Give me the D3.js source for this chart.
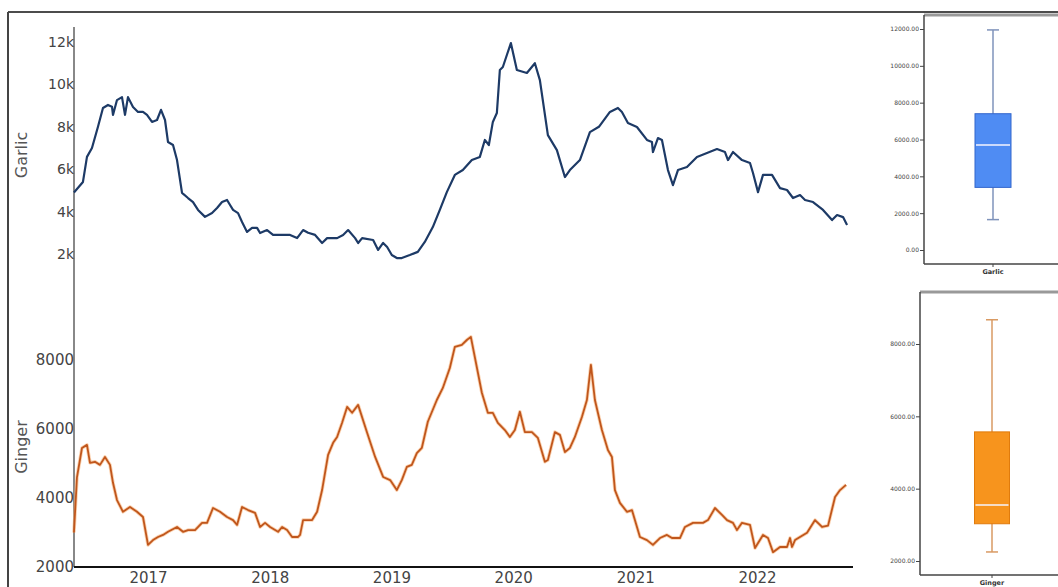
<!DOCTYPE html>
<html><head><meta charset="utf-8">
<script src="https://cdn.jsdelivr.net/npm/d3@7"></script>
<style>html,body{margin:0;padding:0;background:#fff;}svg{display:block;}</style>
</head><body><svg id="c" width="1058" height="587"></svg>
<script>
const garlicDates = ["2016-05-24","2016-06-20","2016-07-02","2016-07-17","2016-08-04","2016-08-19","2016-09-03","2016-09-15","2016-09-18","2016-09-30","2016-10-15","2016-10-24","2016-11-02","2016-11-17","2016-12-02","2016-12-17","2016-12-29","2017-01-13","2017-01-28","2017-02-09","2017-02-21","2017-03-02","2017-03-17","2017-03-29","2017-04-13","2017-05-01","2017-05-16","2017-05-31","2017-06-21","2017-07-12","2017-07-27","2017-08-11","2017-08-26","2017-09-04","2017-09-13","2017-09-28","2017-10-10","2017-10-25","2017-11-09","2017-11-24","2017-12-03","2017-12-24","2018-01-11","2018-02-07","2018-03-03","2018-03-24","2018-04-11","2018-04-26","2018-05-17","2018-06-07","2018-06-22","2018-07-22","2018-08-09","2018-08-24","2018-09-14","2018-09-23","2018-10-05","2018-11-07","2018-11-22","2018-12-07","2018-12-19","2019-01-02","2019-01-17","2019-02-01","2019-02-25","2019-03-21","2019-04-11","2019-05-05","2019-05-26","2019-06-16","2019-07-10","2019-08-03","2019-08-30","2019-09-23","2019-10-08","2019-10-20","2019-11-01","2019-11-13","2019-11-22","2019-12-01","2019-12-25","2020-01-12","2020-02-11","2020-03-06","2020-03-21","2020-04-14","2020-05-11","2020-06-04","2020-06-19","2020-07-19","2020-08-18","2020-09-14","2020-10-17","2020-11-10","2020-11-22","2020-12-10","2021-01-06","2021-02-05","2021-02-20","2021-02-23","2021-03-10","2021-03-22","2021-04-09","2021-04-24","2021-05-09","2021-06-05","2021-07-05","2021-08-04","2021-09-03","2021-09-27","2021-10-06","2021-10-21","2021-11-17","2021-12-11","2021-12-20","2022-01-04","2022-01-19","2022-02-15","2022-03-11","2022-04-01","2022-04-19","2022-05-10","2022-05-25","2022-06-18","2022-07-18","2022-08-14","2022-08-29","2022-09-16","2022-09-28"];
const garlicValues = [4900,5400,6580,7000,8000,8890,9030,8950,8560,9260,9400,8560,9400,8930,8700,8700,8560,8230,8320,8800,8320,7280,7140,6430,4880,4640,4450,4080,3750,3930,4170,4450,4550,4310,4080,3930,3510,3040,3230,3230,2990,3130,2900,2900,2900,2750,3130,3000,2900,2520,2750,2750,2900,3130,2750,2520,2750,2660,2190,2520,2330,1950,1810,1810,1950,2100,2570,3270,4080,4920,5730,5960,6430,6580,7380,7140,8230,8650,10680,10820,11950,10680,10540,11000,10200,7610,6900,5630,5960,6430,7750,8000,8700,8890,8700,8180,7990,7380,7280,6810,7470,7380,5960,5250,5960,6100,6580,6760,6950,6810,6430,6810,6430,6290,5820,4920,5730,5730,5110,5020,4640,4780,4550,4450,4080,3600,3840,3740,3370];

const gingerDates = ["2016-05-24","2016-06-02","2016-06-17","2016-07-02","2016-07-11","2016-07-26","2016-08-10","2016-08-25","2016-09-09","2016-09-18","2016-09-30","2016-10-18","2016-11-08","2016-11-29","2016-12-17","2017-01-01","2017-01-16","2017-01-31","2017-02-15","2017-03-02","2017-03-29","2017-04-16","2017-05-01","2017-05-22","2017-06-12","2017-06-27","2017-07-15","2017-08-05","2017-08-26","2017-09-13","2017-09-25","2017-10-10","2017-10-28","2017-11-18","2017-12-03","2017-12-18","2018-01-02","2018-01-26","2018-02-07","2018-02-22","2018-03-09","2018-03-27","2018-04-02","2018-04-11","2018-05-08","2018-05-23","2018-06-07","2018-06-25","2018-07-10","2018-07-22","2018-08-06","2018-08-21","2018-09-05","2018-09-23","2018-10-20","2018-11-13","2018-12-07","2018-12-28","2019-01-17","2019-02-01","2019-02-16","2019-03-03","2019-03-18","2019-04-02","2019-04-20","2019-05-17","2019-06-04","2019-06-25","2019-07-10","2019-07-31","2019-08-15","2019-08-27","2019-09-29","2019-10-17","2019-11-01","2019-11-16","2019-12-07","2019-12-22","2020-01-06","2020-01-21","2020-02-05","2020-02-26","2020-03-15","2020-04-05","2020-04-14","2020-05-05","2020-05-20","2020-06-04","2020-06-19","2020-07-04","2020-07-25","2020-08-09","2020-08-21","2020-09-02","2020-09-23","2020-10-11","2020-10-23","2020-11-01","2020-11-16","2020-12-07","2020-12-22","2021-01-15","2021-02-05","2021-02-23","2021-03-16","2021-04-06","2021-04-21","2021-05-15","2021-05-30","2021-06-23","2021-07-23","2021-08-07","2021-08-28","2021-09-18","2021-10-03","2021-10-21","2021-11-02","2021-11-17","2021-12-11","2021-12-26","2022-01-19","2022-02-03","2022-02-18","2022-03-11","2022-04-01","2022-04-10","2022-04-16","2022-04-25","2022-05-31","2022-06-24","2022-07-15","2022-08-02","2022-08-23","2022-09-07","2022-09-25"];
const gingerValues = [3000,4600,5450,5540,5020,5050,4960,5190,4960,4440,3940,3600,3740,3600,3450,2640,2780,2870,2930,3020,3160,3020,3070,3070,3280,3280,3710,3600,3450,3360,3220,3740,3650,3570,3160,3280,3160,3020,3160,3070,2870,2870,2930,3360,3360,3600,4230,5250,5600,5770,6180,6640,6470,6700,5890,5190,4610,4520,4230,4520,4900,4960,5300,5450,6210,6840,7190,7770,8380,8440,8580,8670,7050,6470,6470,6180,5970,5770,5970,6500,5910,5910,5740,5050,5100,5910,5830,5330,5450,5770,6350,6840,7860,6840,5970,5390,5190,4230,3860,3600,3650,2870,2780,2640,2840,2930,2840,2840,3160,3280,3280,3360,3710,3510,3360,3280,3070,3280,3220,2550,2930,2840,2430,2580,2580,2840,2580,2780,2990,3360,3160,3200,4030,4230,4380];

const garlicTicks = [2000,4000,6000,8000,10000,12000];
const gingerTicks = [2000,4000,6000,8000];
const yearTicks = ["2017-01-01","2018-01-01","2019-01-01","2020-01-01","2021-01-01","2022-01-01"];
const boxNames = ["Garlic","Ginger"];
const boxLow = [1650,2250];
const boxQ1 = [3400,3030];
const boxMedian = [5700,3550];
const boxQ3 = [7400,5570];
const boxHigh = [11950,8670];
const garlicBoxTicks = [0,2000,4000,6000,8000,10000,12000];
const gingerBoxTicks = [2000,4000,6000,8000];

const svg = d3.select("#c");
const parse = d3.timeParse("%Y-%m-%d");
const font = "DejaVu Sans, sans-serif";

// outer frame
svg.append("line").attr("x1",8).attr("x2",1058).attr("y1",12).attr("y2",12).attr("stroke","#111").attr("stroke-width",1.5);
svg.append("line").attr("x1",8).attr("x2",8).attr("y1",12).attr("y2",587).attr("stroke","#444").attr("stroke-width",2);

const x = d3.scaleTime().domain([parse("2017-01-01"), parse("2022-01-01")]).range([148, 757]);
const yG = d3.scaleLinear().domain([2000,12000]).range([254,42]);
const yR = d3.scaleLinear().domain([2000,8000]).range([567,360]);

// y axis line (shared)
svg.append("line").attr("x1",74).attr("x2",74).attr("y1",27).attr("y2",567).attr("stroke","#888").attr("stroke-width",2);

// garlic ticks
const gAxis = svg.append("g").attr("transform","translate(74,0)")
  .call(d3.axisLeft(yG).tickValues(garlicTicks).tickSize(0).tickPadding(0).tickFormat(d => (d/1000)+"k"));
gAxis.select(".domain").remove();
gAxis.selectAll("text").attr("font-family",font).attr("font-size",14).attr("fill","#444");

const rAxis = svg.append("g").attr("transform","translate(74,0)")
  .call(d3.axisLeft(yR).tickValues(gingerTicks).tickSize(0).tickPadding(0).tickFormat(d3.format("d")));
rAxis.select(".domain").remove();
rAxis.selectAll("text").attr("font-family",font).attr("font-size",15).attr("fill","#444");

// x axis
const xAxis = svg.append("g").attr("transform","translate(0,567)")
  .call(d3.axisBottom(x).tickValues(yearTicks.map(parse)).tickSize(0).tickPadding(5).tickFormat(d3.timeFormat("%Y")));
xAxis.select(".domain").remove();
xAxis.selectAll("text").attr("font-family",font).attr("font-size",15).attr("fill","#444");
svg.append("line").attr("x1",74).attr("x2",853).attr("y1",567).attr("y2",567).attr("stroke","#111").attr("stroke-width",2);

// titles
svg.append("text").attr("transform","translate(27,155) rotate(-90)").attr("text-anchor","middle")
  .attr("font-family",font).attr("font-size",16).attr("fill","#555").text("Garlic");
svg.append("text").attr("transform","translate(27,447) rotate(-90)").attr("text-anchor","middle")
  .attr("font-family",font).attr("font-size",16).attr("fill","#555").text("Ginger");

// lines
const gData = garlicDates.map((d,i)=>({d:parse(d), v:garlicValues[i]}));
const rData = gingerDates.map((d,i)=>({d:parse(d), v:gingerValues[i]}));
svg.append("path").datum(gData).attr("fill","none").attr("stroke","#1d3a66").attr("stroke-width",2.2)
  .attr("stroke-linejoin","round").attr("d", d3.line().x(d=>x(d.d)).y(d=>yG(d.v)));
svg.append("path").datum(rData).attr("fill","none").attr("stroke","#f6b27a").attr("stroke-width",3.5).attr("opacity",0.6)
  .attr("stroke-linejoin","round").attr("d", d3.line().x(d=>x(d.d)).y(d=>yR(d.v)));
svg.append("path").datum(rData).attr("fill","none").attr("stroke","#c0561c").attr("stroke-width",1.8)
  .attr("stroke-linejoin","round").attr("d", d3.line().x(d=>x(d.d)).y(d=>yR(d.v)));

// box plots
const boxes = [
  {i:0, left:924, top:15, bottom:264, y:d3.scaleLinear().domain([0,12000]).range([250,29]), ticks:garlicBoxTicks,
   cx:993, bw:36, fill:"#4f8cf3", stroke:"#3366cc", whisk:"#7f93bb"},
  {i:1, left:920, top:292, bottom:575, y:d3.scaleLinear().domain([2000,8000]).range([561,344]), ticks:gingerBoxTicks,
   cx:992, bw:35, fill:"#f7941d", stroke:"#e07b0c", whisk:"#d99a63"}
];
boxes.forEach(b => {
  const g = svg.append("g");
  g.append("line").attr("x1",b.left).attr("x2",1058).attr("y1",b.top).attr("y2",b.top).attr("stroke","#999").attr("stroke-width",3);
  g.append("line").attr("x1",b.left).attr("x2",b.left).attr("y1",b.top).attr("y2",b.bottom).attr("stroke","#444").attr("stroke-width",1.5);
  g.append("line").attr("x1",b.left).attr("x2",1058).attr("y1",b.bottom).attr("y2",b.bottom).attr("stroke","#444").attr("stroke-width",1.5);
  const ax = g.append("g").attr("transform",`translate(${b.left},0)`)
    .call(d3.axisLeft(b.y).tickValues(b.ticks).tickSize(4).tickPadding(1).tickFormat(d3.format(".2f")));
  ax.select(".domain").remove();
  ax.selectAll("line").attr("stroke","#444");
  ax.selectAll("text").attr("font-family",font).attr("font-size",6).attr("fill","#444");
  const i = b.i;
  g.append("line").attr("x1",b.cx).attr("x2",b.cx).attr("y1",b.y(boxHigh[i])).attr("y2",b.y(boxLow[i])).attr("stroke",b.whisk).attr("stroke-width",1.5);
  [boxHigh[i], boxLow[i]].forEach(v => g.append("line").attr("x1",b.cx-6).attr("x2",b.cx+6).attr("y1",b.y(v)).attr("y2",b.y(v)).attr("stroke",b.whisk).attr("stroke-width",1.5));
  g.append("rect").attr("x",b.cx-b.bw/2).attr("width",b.bw).attr("y",b.y(boxQ3[i])).attr("height",b.y(boxQ1[i])-b.y(boxQ3[i]))
    .attr("fill",b.fill).attr("stroke",b.stroke).attr("stroke-width",1);
  g.append("line").attr("x1",b.cx-b.bw/2+1).attr("x2",b.cx+b.bw/2-1).attr("y1",b.y(boxMedian[i])).attr("y2",b.y(boxMedian[i])).attr("stroke","#f4f4ff").attr("stroke-width",1.5);
  g.append("line").attr("x1",b.cx).attr("x2",b.cx).attr("y1",b.bottom).attr("y2",b.bottom+3).attr("stroke","#444");
  g.append("text").attr("x",b.cx).attr("y",b.bottom+10).attr("text-anchor","middle").attr("font-family",font)
    .attr("font-size",6.5).attr("font-weight","bold").attr("fill","#333").text(boxNames[i]);
});
</script></body></html>
